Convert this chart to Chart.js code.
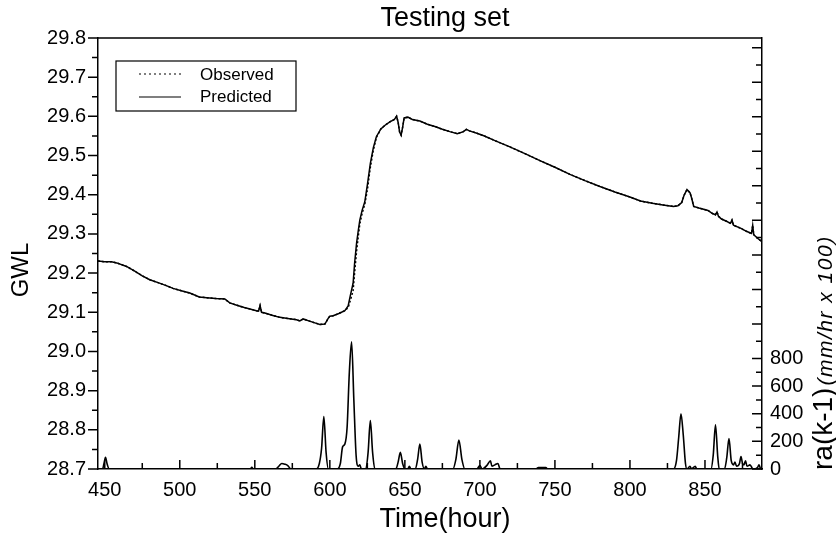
<!DOCTYPE html>
<html>
<head>
<meta charset="utf-8">
<script src="https://cdn.jsdelivr.net/npm/chart.js@4.4.0/dist/chart.umd.min.js"></script>
<style>
  html, body { margin: 0; padding: 0; background: #fff; }
  #wrap { width: 836px; height: 538px; }
</style>
</head>
<body>
<div id="wrap"><canvas id="c" width="836" height="538"></canvas></div>
<script>
/* Testing set — GWL observed vs predicted, with rainfall ra(k-1) on the right axis */

const gwlHours = [
  445.5, 450, 454.5, 458, 464.5, 470, 475, 480, 486, 491, 495.5, 501, 506.7, 513, 518, 524, 530, 533.3, 538, 543,
  548, 551, 552.5, 553.5, 554.5, 556.7, 562, 566.7, 572, 577.8, 580, 582.2, 586, 590, 593.3, 596.7, 599, 600, 602.2, 606,
  610, 612.2, 613.5, 615.5, 616.5, 617.8, 619, 620, 621.5, 623.3, 625, 627, 629, 631, 634, 637, 640, 643, 644.5, 645.5,
  646.5, 647.5, 648.5, 649.5, 652, 655, 660, 665, 670, 675, 680, 685, 689, 691, 693, 698, 703, 710, 720, 730,
  740, 750, 760, 770, 780, 790, 800, 807, 815, 822, 829, 832, 834.5, 836, 838, 840, 841, 842.5, 846, 852,
  855, 857, 858, 859, 861, 864, 867, 868, 869, 874, 878, 881, 881.8, 882.5, 885, 888
];
const predicted = [
  29.231, 29.229, 29.229, 29.226, 29.217, 29.205, 29.193, 29.183, 29.175, 29.168, 29.161, 29.155, 29.149, 29.139, 29.137, 29.135, 29.134, 29.124, 29.118, 29.112,
  29.107, 29.104, 29.103, 29.117, 29.100, 29.098, 29.092, 29.087, 29.084, 29.081, 29.078, 29.083, 29.078, 29.073, 29.069, 29.070, 29.085, 29.090, 29.091, 29.097,
  29.104, 29.116, 29.140, 29.174, 29.225, 29.276, 29.310, 29.336, 29.360, 29.382, 29.425, 29.480, 29.520, 29.548, 29.568, 29.578, 29.586, 29.592, 29.600, 29.585,
  29.560, 29.552, 29.572, 29.596, 29.598, 29.592, 29.588, 29.580, 29.574, 29.567, 29.561, 29.556, 29.561, 29.567, 29.563, 29.557, 29.550, 29.538, 29.522, 29.505,
  29.487, 29.470, 29.452, 29.436, 29.421, 29.407, 29.394, 29.384, 29.378, 29.374, 29.370, 29.372, 29.380, 29.398, 29.413, 29.405, 29.393, 29.370, 29.366, 29.360,
  29.352, 29.349, 29.356, 29.345, 29.338, 29.333, 29.327, 29.335, 29.322, 29.314, 29.306, 29.301, 29.322, 29.298, 29.289, 29.280
];
const observed = [
  29.231, 29.229, 29.229, 29.226, 29.217, 29.205, 29.193, 29.183, 29.175, 29.168, 29.161, 29.155, 29.149, 29.139, 29.137, 29.135, 29.134, 29.124, 29.118, 29.112,
  29.107, 29.104, 29.103, 29.117, 29.100, 29.098, 29.092, 29.087, 29.084, 29.081, 29.078, 29.083, 29.078, 29.073, 29.069, 29.070, 29.085, 29.090, 29.091, 29.097,
  29.104, 29.112, 29.128, 29.155, 29.200, 29.255, 29.295, 29.326, 29.352, 29.376, 29.412, 29.470, 29.514, 29.546, 29.568, 29.578, 29.586, 29.592, 29.600, 29.585,
  29.560, 29.552, 29.572, 29.596, 29.598, 29.592, 29.588, 29.580, 29.574, 29.567, 29.561, 29.556, 29.561, 29.567, 29.563, 29.557, 29.550, 29.538, 29.522, 29.505,
  29.487, 29.470, 29.452, 29.436, 29.421, 29.407, 29.394, 29.384, 29.378, 29.374, 29.370, 29.372, 29.380, 29.398, 29.413, 29.405, 29.393, 29.370, 29.366, 29.360,
  29.352, 29.349, 29.356, 29.345, 29.338, 29.333, 29.327, 29.335, 29.322, 29.314, 29.306, 29.301, 29.322, 29.298, 29.289, 29.280
];

const rainHours = [
  445.5, 448.5, 449.5, 450.5, 451.5, 453, 547, 548, 549, 564, 566, 568, 570, 572, 574,
  591, 593, 594.5, 596, 597.5, 599, 605, 607, 608.5, 610, 611.5, 613, 614.5, 616, 617.5, 619, 620, 621,
  624, 625.5, 627, 628.5, 630, 644, 645.5, 647, 648.5, 650, 652, 653, 654, 657, 658.5, 660, 661.5, 663, 664, 665,
  682, 684, 686, 688, 690, 698, 700, 701.5, 705, 707, 708, 710, 712, 713.5, 737, 739, 744, 745,
  829, 831, 832.5, 834, 835.5, 837, 838, 840, 841, 843.5, 844.5,
  854, 855.5, 857, 858.5, 859.5, 863, 864.5, 866, 867.5, 869, 870, 871, 873, 874, 875, 876, 877, 878, 880, 882, 885, 886, 887
];
const rainValues = [
  0, 0, 40, 85, 40, 0, 0, 12, 0, 0, 20, 40, 35, 25, 0,
  0, 40, 150, 380, 120, 0, 0, 40, 160, 180, 300, 700, 920, 500, 100, 20, 30, 0,
  0, 120, 350, 120, 0, 0, 50, 120, 40, 0, 0, 20, 0, 0, 70, 180, 50, 0, 20, 0,
  0, 70, 210, 70, 0, 0, 25, 0, 30, 60, 20, 30, 40, 0, 0, 10, 10, 0,
  0, 60, 230, 400, 250, 40, 0, 20, 0, 20, 0,
  0, 100, 320, 90, 0, 0, 80, 220, 60, 30, 50, 20, 40, 90, 40, 30, 60, 20, 30, 0, 10, 30, 0
];

const xTicks = [450, 500, 550, 600, 650, 700, 750, 800, 850];
const gwlTicks = [28.7, 28.8, 28.9, 29.0, 29.1, 29.2, 29.3, 29.4, 29.5, 29.6, 29.7, 29.8];
const rainTicks = [0, 200, 400, 600, 800];

const FONT = "'Liberation Sans', Arial, sans-serif";

function pts(xs, ys) { return xs.map((x, i) => ({ x: x, y: ys[i] })); }

// inward/outward tick marks, frame, legend box and titles
const decor = {
  id: 'decor',
  afterDraw(chart) {
    const { ctx, chartArea: a, scales } = chart;
    const sx = scales.x, sy = scales.y, sr = scales.y2;
    ctx.save();
    ctx.strokeStyle = '#000';
    ctx.lineWidth = 1.5;
    ctx.beginPath();
    ctx.moveTo(a.left, a.top); ctx.lineTo(a.right, a.top);
    // x ticks, pointing up
    for (let v = 450; v <= sx.max; v += 25) {
      const px = sx.getPixelForValue(v);
      const len = v % 50 === 0 ? 9 : 6;
      ctx.moveTo(px, a.bottom); ctx.lineTo(px, a.bottom - len);
    }
    // left ticks, pointing out
    for (let i = 0; i <= 22; i++) {
      const py = sy.getPixelForValue(28.7 + i * 0.05);
      const len = i % 2 === 0 ? 10 : 6;
      ctx.moveTo(a.left, py); ctx.lineTo(a.left - len, py);
    }
    // right ticks, pointing in
    for (let v = 0; v <= 800; v += 100) {
      const py = sr.getPixelForValue(v);
      const len = v % 200 === 0 ? 10 : 6;
      ctx.moveTo(a.right, py); ctx.lineTo(a.right - len, py);
    }
    for (let v = 925, k = 1; v < sr.max; v += 125, k++) {
      const py = sr.getPixelForValue(v);
      const len = k % 2 === 0 ? 10 : 6;
      ctx.moveTo(a.right, py); ctx.lineTo(a.right - len, py);
    }
    ctx.stroke();

    // legend box
    ctx.lineWidth = 1.2;
    ctx.strokeRect(116, 61, 180, 50);
    ctx.beginPath();
    ctx.setLineDash([2, 3]);
    ctx.moveTo(139, 74); ctx.lineTo(181, 74);
    ctx.stroke();
    ctx.setLineDash([]);
    ctx.beginPath();
    ctx.moveTo(139, 97); ctx.lineTo(181, 97);
    ctx.stroke();
    ctx.fillStyle = '#000';
    ctx.font = '17px ' + FONT;
    ctx.textBaseline = 'middle';
    ctx.textAlign = 'left';
    ctx.fillText(chart.data.datasets[0].label, 200, 75);
    ctx.fillText(chart.data.datasets[1].label, 200, 97);

    // titles
    ctx.textAlign = 'center';
    ctx.font = '27px ' + FONT;
    ctx.fillText('Testing set', 445, 19);
    ctx.fillText('Time(hour)', 445, 520);
    ctx.save();
    ctx.translate(21, 270);
    ctx.rotate(-Math.PI / 2);
    ctx.font = '24px ' + FONT;
    ctx.fillText('GWL', 0, 0);
    ctx.restore();

    // right axis title: big + italic small, baseline aligned
    ctx.save();
    ctx.translate(832, 470);
    ctx.rotate(-Math.PI / 2);
    ctx.textAlign = 'left';
    ctx.textBaseline = 'alphabetic';
    ctx.font = '28px ' + FONT;
    ctx.fillText('ra(k-1)', 0, 0);
    const w = ctx.measureText('ra(k-1)').width;
    ctx.font = 'italic 21px ' + FONT;
    ctx.letterSpacing = '1.5px';
    ctx.fillText('(mm/hr x 100)', w + 2, 0);
    ctx.restore();
    ctx.restore();
  }
};

new Chart(document.getElementById('c').getContext('2d'), {
  type: 'line',
  data: {
    datasets: [
      {
        label: 'Observed',
        data: pts(gwlHours, observed),
        yAxisID: 'y',
        borderColor: '#000',
        borderWidth: 1.5,
        borderDash: [2, 2],
        pointRadius: 0,
        tension: 0
      },
      {
        label: 'Predicted',
        data: pts(gwlHours, predicted),
        yAxisID: 'y',
        borderColor: '#000',
        borderWidth: 1.5,
        pointRadius: 0,
        tension: 0
      },
      {
        label: 'ra(k-1)',
        data: pts(rainHours, rainValues),
        yAxisID: 'y2',
        borderColor: '#000',
        borderWidth: 1.6,
        pointRadius: 0,
        cubicInterpolationMode: 'monotone'
      }
    ]
  },
  options: {
    responsive: false,
    animation: false,
    devicePixelRatio: 1,
    layout: { padding: { top: 38, left: 0, right: 0, bottom: 0 } },
    plugins: { legend: { display: false }, tooltip: { enabled: false }, title: { display: false } },
    scales: {
      x: {
        type: 'linear', min: 445.5, max: 888,
        afterBuildTicks: s => { s.ticks = xTicks.map(v => ({ value: v })); },
        afterFit: s => { s.height = 69; },
        grid: { display: false, drawTicks: false },
        border: { display: true, color: '#000', width: 1.5 },
        ticks: { color: '#000', padding: 9, font: { family: FONT, size: 20 }, maxRotation: 0 }
      },
      y: {
        type: 'linear', position: 'left', min: 28.7, max: 29.8,
        afterBuildTicks: s => { s.ticks = gwlTicks.map(v => ({ value: v })); },
        afterFit: s => { s.width = 98; },
        grid: { display: false, drawTicks: false },
        border: { display: true, color: '#000', width: 1.5 },
        ticks: { color: '#000', padding: 12, font: { family: FONT, size: 20 }, callback: v => v.toFixed(1) }
      },
      y2: {
        type: 'linear', position: 'right', min: 0, max: 3120,
        afterBuildTicks: s => { s.ticks = rainTicks.map(v => ({ value: v })); },
        afterFit: s => { s.width = 74; },
        grid: { display: false, drawTicks: false },
        border: { display: true, color: '#000', width: 1.5 },
        ticks: { color: '#000', padding: 8, font: { family: FONT, size: 20 } }
      }
    }
  },
  plugins: [decor]
});
</script>
</body>
</html>
